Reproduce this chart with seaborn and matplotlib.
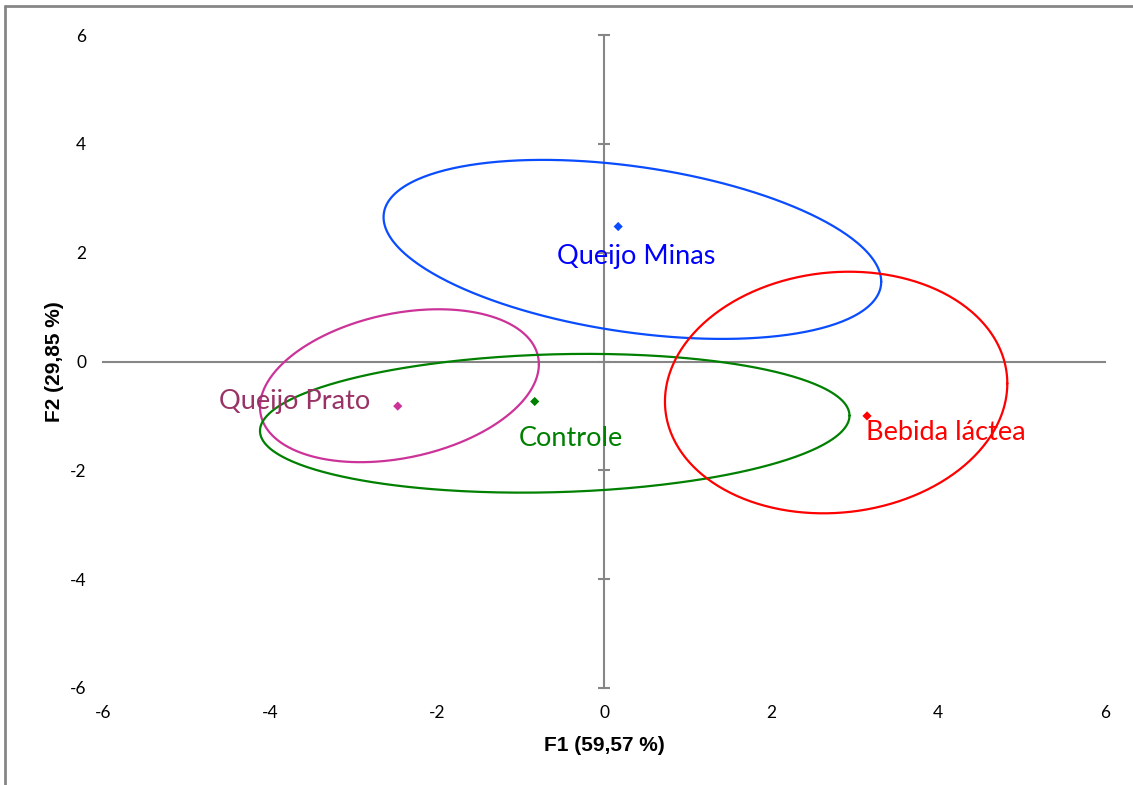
import numpy as np
import pandas as pd
import matplotlib
matplotlib.use("Agg")
import matplotlib.pyplot as plt
from matplotlib.lines import Line2D
import seaborn as sns

# group centroids (F1, F2)
groups = ["Queijo Minas", "Queijo Prato", "Controle", "Bebida láctea"]
f1 = [0.17, -2.47, -0.83, 3.15]
f2 = [2.48, -0.82, -0.735, -1.00]

# confidence ellipses: centre, spread along F1/F2 and correlation
ell_cx = [0.34, -2.45, -0.59, 2.78]
ell_cy = [2.06, -0.445, -1.135, -0.57]
ell_sx = [2.98, 1.67, 3.53, 2.05]
ell_sy = [1.645, 1.405, 1.275, 2.22]
ell_r = [-0.36, 0.28, 0.11, 0.075]

# label anchor positions
lab_x = [0.38, -2.80, -0.40, 3.14]
lab_y = [1.93, -0.74, -1.42, -1.31]
lab_ha = ["center", "right", "center", "left"]

line_colors = ["#0a4cff", "#cc3399", "#008000", "#ff0000"]
text_colors = ["#0000ff", "#993366", "#008000", "#ff0000"]

ticks = [-6, -4, -2, 0, 2, 4, 6]

sns.set_theme(style="white")
plt.rcParams["font.family"] = ["Lato", "DejaVu Sans"]
plt.rcParams["axes.unicode_minus"] = False
plt.rcParams["text.color"] = "black"
plt.rcParams["axes.labelcolor"] = "black"
plt.rcParams["xtick.color"] = "black"
plt.rcParams["ytick.color"] = "black"

fig = plt.figure(figsize=(11.33, 7.85), dpi=100)
ax = fig.add_axes([103 / 1133, 1 - 688 / 785, 1002 / 1133, 653 / 785])

axis_gray = "#868686"
t = np.linspace(0, 2 * np.pi, 400)
for i, g in enumerate(groups):
    cov = np.array([[ell_sx[i] ** 2, ell_r[i] * ell_sx[i] * ell_sy[i]],
                    [ell_r[i] * ell_sx[i] * ell_sy[i], ell_sy[i] ** 2]])
    L = np.linalg.cholesky(cov)
    pts = L @ np.vstack([np.cos(t), np.sin(t)])
    df_e = pd.DataFrame({"x": ell_cx[i] + pts[0], "y": ell_cy[i] + pts[1]})
    sns.lineplot(data=df_e, x="x", y="y", sort=False, estimator=None,
                 color=line_colors[i], lw=1.6, ax=ax, zorder=3)

pts_df = pd.DataFrame({"F1": f1, "F2": f2, "group": groups})
sns.scatterplot(data=pts_df, x="F1", y="F2", hue="group", palette=line_colors,
                marker="D", s=22, edgecolor="none", legend=False, ax=ax, zorder=4)

for i, g in enumerate(groups):
    ax.text(lab_x[i], lab_y[i], g, color=text_colors[i], fontsize=19.5,
            ha=lab_ha[i], va="center", zorder=5)

ax.set_xlim(-6, 6)
ax.set_ylim(-6, 6)
ax.set_xticks(ticks)
ax.set_yticks(ticks)

# axes crossing at the origin
for side in ["top", "right"]:
    ax.spines[side].set_visible(False)
for side in ["left", "bottom"]:
    ax.spines[side].set_position(("data", 0))
    ax.spines[side].set_color(axis_gray)
    ax.spines[side].set_linewidth(1.5)
    ax.spines[side].set_zorder(1)
ax.tick_params(axis="y", direction="inout", length=9, width=1.5,
               color=axis_gray, labelleft=False, left=True)
ax.tick_params(axis="x", bottom=False, labelbottom=False)
ax.set_xlabel("")
ax.set_ylabel("")

# tick labels on the outer edges
secy = ax.secondary_yaxis(0.0)
secy.set_yticks(ticks)
secy.tick_params(length=0, pad=12, labelsize=12.5, labelcolor="black")
secy.spines["left"].set_visible(False)
secy.set_ylabel("F2 (29,85 %)", fontsize=15, fontweight="bold", color="black",
                family="Liberation Sans", labelpad=4)

secx = ax.secondary_xaxis(0.0)
secx.set_xticks(ticks)
secx.tick_params(length=0, pad=12, labelsize=12.5, labelcolor="black")
secx.spines["bottom"].set_visible(False)
secx.set_xlabel("F1 (59,57 %)", fontsize=15, fontweight="bold", color="black",
                family="Liberation Sans", labelpad=11)

# outer chart frame
fig.add_artist(Line2D([5 / 1133, 5 / 1133], [0, 1 - 6 / 785],
                      transform=fig.transFigure, color=axis_gray, lw=2))
fig.add_artist(Line2D([5 / 1133, 1], [1 - 6 / 785, 1 - 6 / 785],
                      transform=fig.transFigure, color=axis_gray, lw=2))

fig.savefig("out.png", dpi=100)
